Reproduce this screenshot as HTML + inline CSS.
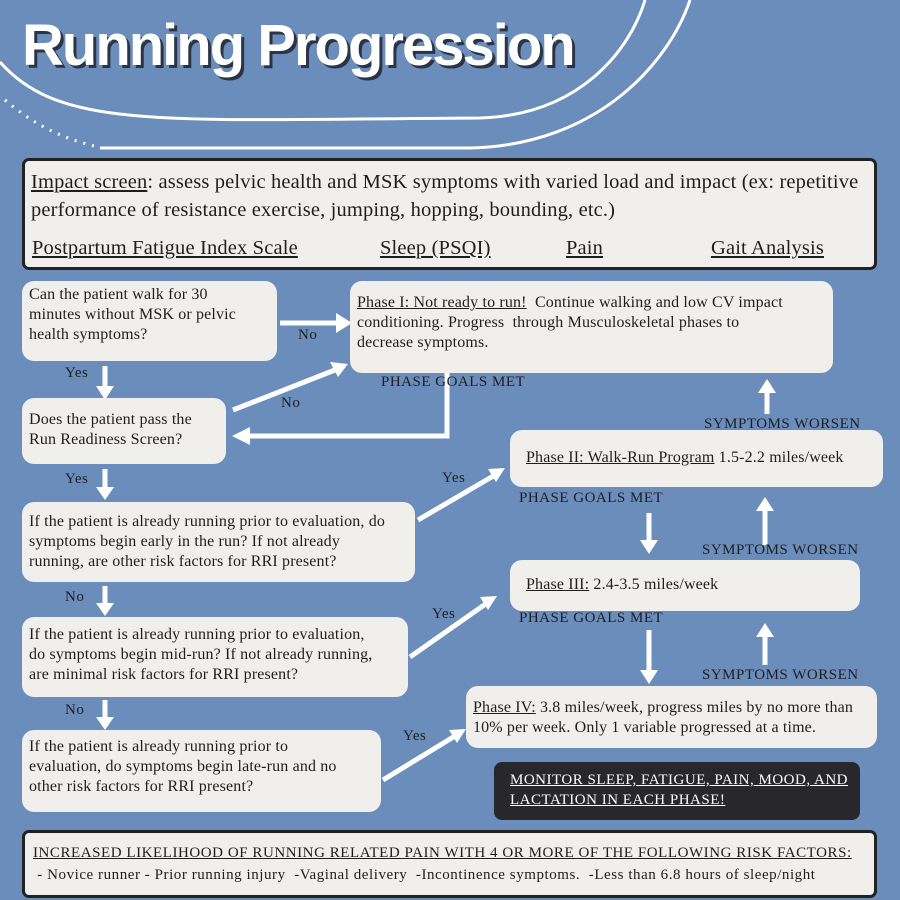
<!DOCTYPE html>
<html><head><meta charset="utf-8"><style>
body{margin:0;background:#6a8dbb;}
#c{position:relative;width:900px;height:900px;overflow:hidden;background:#6a8dbb;font-family:"Liberation Serif",serif;color:#1e1e1e;}
.b{position:absolute;background:#f1efec;border-radius:12px;font-size:16px;line-height:20px;padding:6px 7px;box-sizing:border-box;letter-spacing:0.15px;white-space:nowrap;overflow:hidden;}
.l{position:absolute;font-size:15px;color:#1e1e1e;letter-spacing:0.5px;}
u{text-decoration:underline;}
svg{position:absolute;left:0;top:0;}
</style></head><body><div id="c">
<svg width="900" height="900">
 <g fill="none" stroke="#fff" stroke-width="3">
  <path d="M0 62 C60 130 160 120 480 118 C580 115 630 50 645 0"/>
  <path d="M100 148 L470 148 C600 145 670 60 690 0"/>
 </g>
 <path d="M5 100 C40 130 70 140 98 147" fill="none" stroke="#fff" stroke-width="3" stroke-dasharray="2 7"/>
 <g stroke="#fff" stroke-width="5" fill="none">
  <line x1="280" y1="323" x2="338" y2="323"/>
  <line x1="105" y1="366" x2="105" y2="388"/>
  <line x1="233" y1="410" x2="335" y2="370"/>
  <polyline points="447,373 447,436 248,436"/>
  <line x1="105" y1="469" x2="105" y2="490"/>
  <line x1="418" y1="520" x2="495" y2="475"/>
  <line x1="105" y1="586" x2="105" y2="606"/>
  <line x1="410" y1="657" x2="487" y2="603"/>
  <line x1="105" y1="700" x2="105" y2="720"/>
  <line x1="383" y1="780" x2="455" y2="736"/>
  <line x1="649" y1="513" x2="649" y2="542"/>
  <line x1="649" y1="630" x2="649" y2="672"/>
  <line x1="767" y1="414" x2="767" y2="392"/>
  <line x1="765" y1="545" x2="765" y2="510"/>
  <line x1="765" y1="665" x2="765" y2="635"/>
 </g>
 <g fill="#fff">
  <polygon points="352,323 336,313 336,333"/>
  <polygon points="105,400 96,386 114,386"/>
  <polygon points="348,364 330,362 338,377"/>
  <polygon points="232,436 250,427 250,445"/>
  <polygon points="105,500 96,487 114,487"/>
  <polygon points="505,468 488,469 496,482"/>
  <polygon points="105,616 96,603 114,603"/>
  <polygon points="497,596 480,597 488,610"/>
  <polygon points="105,730 96,717 114,717"/>
  <polygon points="466,729 449,730 457,743"/>
  <polygon points="649,554 640,540 658,540"/>
  <polygon points="649,684 640,670 658,670"/>
  <polygon points="767,379 758,393 776,393"/>
  <polygon points="765,497 756,511 774,511"/>
  <polygon points="765,623 756,637 774,637"/>
 </g>
</svg>
<div style="position:absolute;left:22px;top:12px;font-family:'Liberation Sans',sans-serif;font-weight:bold;font-size:58px;color:#fff;letter-spacing:-2px;text-shadow:3px 3px 0 #2b3345;">Running Progression</div>

<div class="b" style="left:22px;top:158px;width:855px;height:112px;border:3px solid #222;border-radius:7px;font-size:20.5px;line-height:28px;padding:7px 6px;letter-spacing:0.15px;">
<u>Impact screen</u>: assess pelvic health and MSK symptoms with varied load and impact (ex: repetitive<br>performance of resistance exercise, jumping, hopping, bounding, etc.)
<div style="position:absolute;top:73px;left:7px;"><u>Postpartum Fatigue Index Scale</u></div>
<div style="position:absolute;top:73px;left:355px;"><u>Sleep (PSQI)</u></div>
<div style="position:absolute;top:73px;left:541px;"><u>Pain</u></div>
<div style="position:absolute;top:73px;left:686px;"><u>Gait Analysis</u></div>
</div>

<div class="b" style="left:22px;top:281px;width:255px;height:80px;padding-top:4px;">Can the patient walk for 30<br>minutes without MSK or pelvic<br>health symptoms?</div>
<div class="b" style="left:350px;top:281px;width:483px;height:92px;padding-top:12px;"><u>Phase I: Not ready to run!</u>&nbsp; Continue walking and low CV impact<br>conditioning. Progress&nbsp; through Musculoskeletal phases to<br>decrease symptoms.</div>
<div class="b" style="left:22px;top:398px;width:204px;height:66px;padding-top:12px;">Does the patient pass the<br>Run Readiness Screen?</div>
<div class="b" style="left:22px;top:502px;width:393px;height:80px;padding-top:10px;">If the patient is already running prior to evaluation, do<br>symptoms begin early in the run? If not already<br>running, are other risk factors for RRI present?</div>
<div class="b" style="left:510px;top:430px;width:373px;height:57px;padding:18px 16px;"><u>Phase II: Walk-Run Program</u> 1.5-2.2 miles/week</div>
<div class="b" style="left:510px;top:560px;width:350px;height:51px;padding:15px 16px;"><u>Phase III:</u> 2.4-3.5 miles/week</div>
<div class="b" style="left:22px;top:617px;width:386px;height:80px;padding-top:8px;">If the patient is already running prior to evaluation,<br>do symptoms begin mid-run? If not already running,<br>are minimal risk factors for RRI present?</div>
<div class="b" style="left:466px;top:686px;width:411px;height:62px;padding-top:12px;"><u>Phase IV:</u> 3.8 miles/week, progress miles by no more than<br>10% per week. Only 1 variable progressed at a time.</div>
<div class="b" style="left:22px;top:730px;width:359px;height:82px;padding-top:7px;">If the patient is already running prior to<br>evaluation, do symptoms begin late-run and no<br>other risk factors for RRI present?</div>
<div class="b" style="left:494px;top:762px;width:366px;height:58px;background:#28282c;color:#fff;padding:8px 16px;border-radius:8px;font-size:15px;letter-spacing:0.5px;"><u>MONITOR SLEEP, FATIGUE, PAIN, MOOD, AND<br>LACTATION IN EACH PHASE!</u></div>
<div class="b" style="left:22px;top:830px;width:855px;height:68px;border:3px solid #222;border-radius:7px;padding:9px 8px;line-height:22px;font-size:15px;letter-spacing:0.55px;"><u>INCREASED LIKELIHOOD OF RUNNING RELATED PAIN WITH 4 OR MORE OF THE FOLLOWING RISK FACTORS:</u><br>&nbsp;- Novice runner - Prior running injury &nbsp;-Vaginal delivery &nbsp;-Incontinence symptoms. &nbsp;-Less than 6.8 hours of sleep/night</div>

<div class="l" style="left:298px;top:327px;">No</div>
<div class="l" style="left:65px;top:365px;">Yes</div>
<div class="l" style="left:281px;top:395px;">No</div>
<div class="l" style="left:381px;top:374px;">PHASE GOALS MET</div>
<div class="l" style="left:704px;top:416px;">SYMPTOMS WORSEN</div>
<div class="l" style="left:65px;top:471px;">Yes</div>
<div class="l" style="left:442px;top:470px;">Yes</div>
<div class="l" style="left:519px;top:490px;">PHASE GOALS MET</div>
<div class="l" style="left:702px;top:542px;">SYMPTOMS WORSEN</div>
<div class="l" style="left:65px;top:589px;">No</div>
<div class="l" style="left:432px;top:606px;">Yes</div>
<div class="l" style="left:519px;top:610px;">PHASE GOALS MET</div>
<div class="l" style="left:702px;top:667px;">SYMPTOMS WORSEN</div>
<div class="l" style="left:65px;top:702px;">No</div>
<div class="l" style="left:403px;top:728px;">Yes</div>
</div></body></html>
